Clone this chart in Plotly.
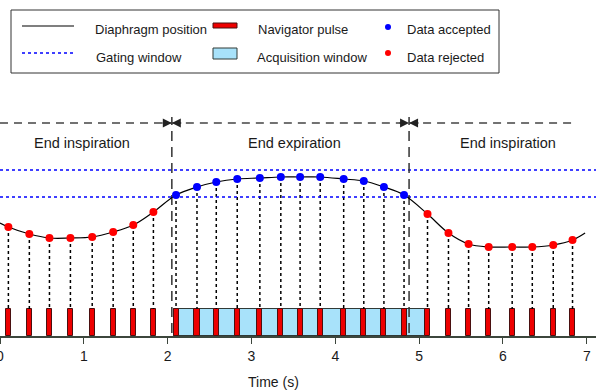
import plotly.graph_objects as go

# ---------------- data ----------------
pulse_times = [0.10, 0.35, 0.59, 0.84, 1.10, 1.35, 1.59, 1.83,
               2.10, 2.35, 2.58, 2.83, 3.10, 3.35, 3.58, 3.82,
               4.10, 4.34, 4.58, 4.82, 5.10, 5.35, 5.59, 5.83,
               6.11, 6.35, 6.60, 6.83]
diaphragm_at_pulse = [21.8, 20.4, 19.6, 19.6, 19.8, 20.8, 22.2, 24.8,
                      28.2, 29.8, 30.8, 31.4, 31.6, 31.8, 31.8, 31.8,
                      31.4, 31.0, 29.8, 28.2, 24.4, 20.6, 18.4, 17.8,
                      17.8, 17.8, 18.2, 19.2]
curve_start = (0.0, 22.6)
curve_end = (6.98, 20.6)
gate_lower = 27.8
gate_upper = 33.2
pulse_height = 5.4
pulse_width = 0.06
phase_bounds = [2.05, 4.88]
phase_labels = ["End inspiration", "End expiration", "End inspiration"]
phase_label_x = [0.98, 3.51, 6.06]
x_ticks = [0, 1, 2, 3, 4, 5, 6, 7]

# ---------------- geometry helpers ----------------
W, H = 596, 390
ML, MR, MT, MB = 0, 0, 117, 54
PW, PH = W - ML - MR, H - MT - MB
XR = [0, 7.11]
YR = [0, 43.8]
arrow_y = 42.6
label_y = 38.6
arrow_end = 6.88
FONT = "Liberation Sans, Arial, Helvetica, sans-serif"
TXT = "#1a1a1a"
AXC = "#3c463c"


def px(xp):
    return (xp - ML) / PW


def py(yp):
    return (H - MB - yp) / PH


accepted = [gate_lower <= v <= gate_upper for v in diaphragm_at_pulse]

fig = go.Figure()

# acquisition window boxes (from each accepted pulse to the next pulse)
box_x, box_w = [], []
for i, ok in enumerate(accepted):
    if ok and i + 1 < len(pulse_times):
        a = pulse_times[i] - pulse_width / 2
        b = pulse_times[i + 1] - pulse_width / 2
        box_x.append((a + b) / 2)
        box_w.append(b - a)
fig.add_trace(go.Bar(x=box_x, y=[pulse_height] * len(box_x), width=box_w, base=0,
                     marker=dict(color="#a8e2fa", line=dict(color="#303a36", width=1)),
                     showlegend=False, hoverinfo="skip"))

# navigator pulses
fig.add_trace(go.Bar(x=pulse_times, y=[pulse_height] * len(pulse_times),
                     width=pulse_width, base=0,
                     marker=dict(color="#ee0000", line=dict(color="#4a1010", width=1)),
                     showlegend=False, hoverinfo="skip"))

# dotted droplines from sampled points to pulses
dx, dy = [], []
for t, v in zip(pulse_times, diaphragm_at_pulse):
    dx += [t, t, None]
    dy += [v, pulse_height, None]
fig.add_trace(go.Scatter(x=dx, y=dy, mode="lines",
                         line=dict(color="black", width=1.5, dash="dot"),
                         showlegend=False, hoverinfo="skip"))

# gating window
for g in (gate_upper, gate_lower):
    fig.add_trace(go.Scatter(x=XR, y=[g, g], mode="lines",
                             line=dict(color="#0000ff", width=1.6, dash="dot"),
                             showlegend=False, hoverinfo="skip"))

# phase boundaries
for b in phase_bounds:
    fig.add_trace(go.Scatter(x=[b, b], y=[0.6, YR[1]], mode="lines",
                             line=dict(color="#333333", width=1.5, dash="10px,6px"),
                             showlegend=False, hoverinfo="skip"))

# horizontal phase arrows (dashed)
segs = [(0.0, phase_bounds[0]), (phase_bounds[0], phase_bounds[1]), (phase_bounds[1], arrow_end)]
for a, b in segs:
    fig.add_trace(go.Scatter(x=[a, b], y=[arrow_y, arrow_y], mode="lines",
                             line=dict(color="#444444", width=1.5, dash="8px,6px"),
                             showlegend=False, hoverinfo="skip"))

# diaphragm curve
cx = [curve_start[0]] + pulse_times + [curve_end[0]]
cy = [curve_start[1]] + diaphragm_at_pulse + [curve_end[1]]
fig.add_trace(go.Scatter(x=cx, y=cy, mode="lines", line=dict(color="black", width=1.2, shape="spline", smoothing=1.0),
                         showlegend=False, hoverinfo="skip"))

# points
fig.add_trace(go.Scatter(x=[t for t, ok in zip(pulse_times, accepted) if ok],
                         y=[v for v, ok in zip(diaphragm_at_pulse, accepted) if ok],
                         mode="markers", marker=dict(color="#0000ff", size=8),
                         showlegend=False, hoverinfo="skip"))
fig.add_trace(go.Scatter(x=[t for t, ok in zip(pulse_times, accepted) if not ok],
                         y=[v for v, ok in zip(diaphragm_at_pulse, accepted) if not ok],
                         mode="markers", marker=dict(color="#ff0000", size=8),
                         showlegend=False, hoverinfo="skip"))

annotations = []
# arrowheads
heads = [(phase_bounds[0], -1), (phase_bounds[0], 1), (phase_bounds[1], -1), (phase_bounds[1], 1)]
for tip, side in heads:
    annotations.append(dict(x=tip, y=arrow_y, ax=tip + side * 0.13, ay=arrow_y,
                            xref="x", yref="y", axref="x", ayref="y", text="",
                            showarrow=True, arrowhead=2, arrowsize=1.2, arrowwidth=1.5,
                            arrowcolor="#222222", standoff=0))
# phase labels
for lab, lx in zip(phase_labels, phase_label_x):
    annotations.append(dict(x=lx, y=label_y, xref="x", yref="y", text=lab, showarrow=False,
                            xanchor="center", yanchor="middle",
                            font=dict(family=FONT, size=14.5, color=TXT)))
# axis title
annotations.append(dict(x=3.26, y=py(382), xref="x", yref="paper", text="Time (s)",
                        showarrow=False, xanchor="center", yanchor="middle",
                        font=dict(family=FONT, size=14, color=TXT)))

# ---------------- custom legend ----------------
shapes = []
shapes.append(dict(type="rect", xref="paper", yref="paper", x0=px(11), x1=px(499), y0=py(73), y1=py(10),
                   line=dict(color="#333333", width=1), fillcolor="white", layer="above"))
shapes.append(dict(type="line", xref="paper", yref="paper", x0=px(22), x1=px(74), y0=py(26), y1=py(26),
                   line=dict(color="black", width=1.2)))
shapes.append(dict(type="line", xref="paper", yref="paper", x0=px(22), x1=px(74), y0=py(53), y1=py(53),
                   line=dict(color="#0000ff", width=1.5, dash="dot")))
shapes.append(dict(type="rect", xref="paper", yref="paper", x0=px(213), x1=px(237), y0=py(28), y1=py(23),
                   line=dict(color="#4a1010", width=1), fillcolor="#ee0000"))
shapes.append(dict(type="rect", xref="paper", yref="paper", x0=px(213), x1=px(237), y0=py(59), y1=py(48),
                   line=dict(color="#303a36", width=1), fillcolor="#a8e2fa"))
for yy, col in ((27, "#0000ff"), (53, "#ff0000")):
    shapes.append(dict(type="circle", xref="paper", yref="paper", xsizemode="pixel", ysizemode="pixel",
                       xanchor=px(388), yanchor=py(yy), x0=-3, x1=3, y0=-3, y1=3,
                       line=dict(width=0), fillcolor=col))
leg_text = [("Diaphragm position", 93, 30), ("Gating window", 94, 57),
            ("Navigator pulse", 256, 30), ("Acquisition window", 255, 57),
            ("Data accepted", 405, 30), ("Data rejected", 405, 57)]
for t, xx, yy in leg_text:
    annotations.append(dict(x=px(xx), y=py(yy), xref="paper", yref="paper", text=t, showarrow=False,
                            xanchor="left", yanchor="middle", font=dict(family=FONT, size=13, color=TXT)))

fig.update_layout(
    width=W, height=H, autosize=False,
    margin=dict(l=ML, r=MR, t=MT, b=MB, pad=0),
    paper_bgcolor="white", plot_bgcolor="white",
    barmode="overlay", bargap=0,
    showlegend=False,
    xaxis=dict(range=XR, showline=True, linecolor=AXC, linewidth=1.5, ticks="outside", ticklen=6,
               tickcolor=AXC, tickvals=x_ticks, showgrid=False, zeroline=False, automargin=False,
               ticklabeloverflow="allow",
               tickfont=dict(family=FONT, size=14, color=TXT)),
    yaxis=dict(range=YR, showline=True, linecolor=AXC, linewidth=2, showticklabels=False, ticks="",
               showgrid=False, zeroline=False, automargin=False),
    shapes=shapes, annotations=annotations,
)

fig.write_html("out.html", config={"displayModeBar": False},
               post_script="document.body.style.margin='0px';document.body.style.padding='0px';")
